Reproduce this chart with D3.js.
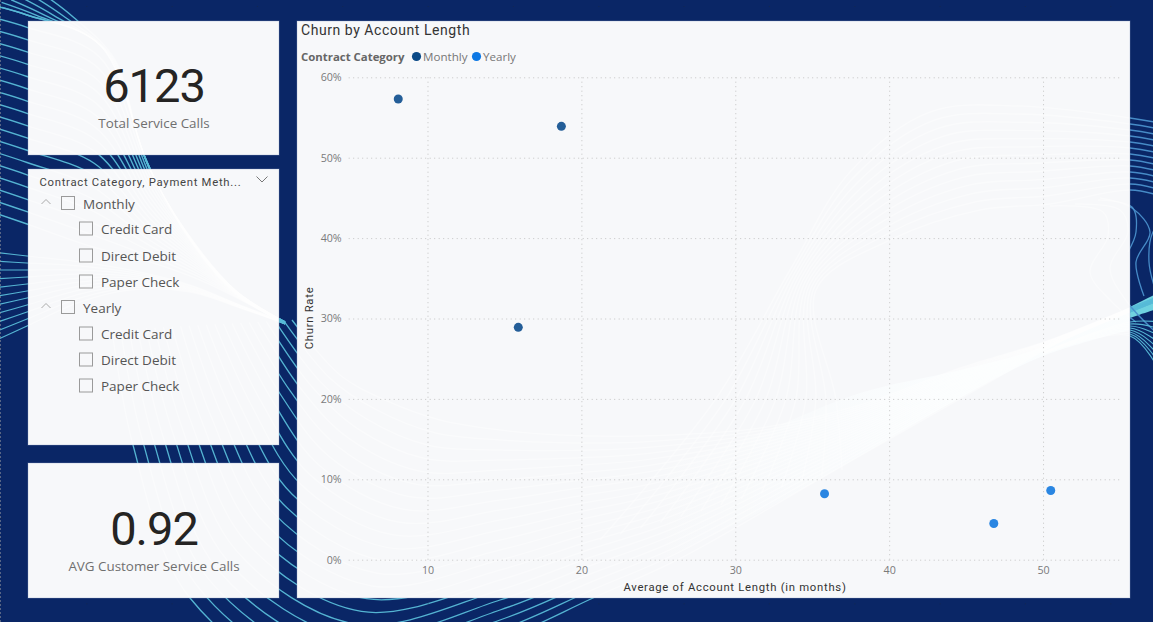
<!DOCTYPE html>
<html><head><meta charset="utf-8">
<script src="https://cdn.jsdelivr.net/npm/d3@7"></script>
<style>
html,body{margin:0;padding:0;background:#0a2666;overflow:hidden}
svg{display:block}
text{font-family:"Open Sans",sans-serif}
.din{font-family:Roboto,sans-serif}
</style></head><body><div id="chart"></div>
<script>
// ---- chart values ----
const seriesNames = ["Monthly","Yearly"];
const monthlyLength = [8.1,18.7,15.9];
const monthlyChurn  = [57.3,53.9,28.9];
const yearlyLength  = [35.8,46.8,50.5];
const yearlyChurn   = [8.2,4.5,8.6];
const xTickValues = [10,20,30,40,50];
const yTickValues = [0,10,20,30,40,50,60];
const xDomain = [4.88,55];
const yDomain = [0,60];
const totalCalls = "6123";
const avgCalls = "0.92";
const slicerTree = [["Monthly",["Credit Card","Direct Debit","Paper Check"]],["Yearly",["Credit Card","Direct Debit","Paper Check"]]];

// ---- layout ----
const W=1153,H=622;
const panels=[{x:28,y:21,w:251,h:134},{x:28,y:169,w:251,h:276},{x:28,y:463,w:251,h:135},{x:297,y:21,w:833,h:577}];
const seriesColor=d3.scaleOrdinal(seriesNames,["#0b4a87","#0d78e4"]);
const markColor=d3.scaleOrdinal(seriesNames,["#245e98","#2a86e2"]);

const svg=d3.select("#chart").append("svg").attr("width",W).attr("height",H);
svg.append("rect").attr("width",W).attr("height",H).attr("fill","#0a2666");
const defs=svg.append("defs");
defs.append("clipPath").attr("id","pc").selectAll("rect").data(panels).join("rect")
  .attr("x",d=>d.x).attr("y",d=>d.y).attr("width",d=>d.w).attr("height",d=>d.h);
const fade=defs.append("linearGradient").attr("id","fade").attr("gradientUnits","userSpaceOnUse")
  .attr("x1",640).attr("x2",960).attr("y1",0).attr("y2",0);
fade.append("stop").attr("offset",0).attr("stop-color","#fbfeff").attr("stop-opacity",0);
fade.append("stop").attr("offset",1).attr("stop-color","#fbfeff").attr("stop-opacity",.85);

// ---- decorative background ribbons ----
const ribbon=d3.line().curve(d3.curveCatmullRom.alpha(0.5));
function fan(a,b,n){return d3.range(n).map(i=>{const t=i/(n-1);return a.map((p,k)=>[p[0]+(b[k][0]-p[0])*t,p[1]+(b[k][1]-p[1])*t]);});}
const bowlOuter=[[112,330],[133,445],[190,598],[330,688],[500,640],[593,598],[677,560],[823,477],[893,437],[993,380],[1060,342],[1130,312],[1160,300]];
const bowlInner=[[292,320],[340,375],[385,400],[440,420],[500,430],[560,435],[640,436],[760,428],[860,405],[960,368],[1050,340],[1130,308],[1160,296]];
const topMid=[[-8,5],[27,15],[100,45],[150,170],[185,230],[235,290],[285,322]];
const families=[
 {lines:fan([[40,-8],[72,16],[115,60],[142,150],[180,225],[230,288],[285,322]],topMid,6),c:"#58bcd8",w:1.4},
 {lines:fan(topMid,[[-8,212],[27,224],[90,246],[150,262],[200,280],[245,302],[285,324]],18),c:"#58bcd8",w:1.4},
 {lines:fan([[-8,252],[27,256],[80,262],[130,270],[190,285],[240,305],[285,322]],
            [[-8,342],[27,326],[80,302],[130,290],[190,292],[240,308],[285,324]],11),c:"#58bcd8",w:1.2},
 {lines:fan(bowlOuter,bowlInner,22),c:"#58bcd8",w:1.3},
 {lines:fan([[600,540],[715,400],[790,270],[850,172],[930,112],[1020,106],[1130,118],[1160,123]],
            [[842,470],[836,400],[816,290],[890,240],[980,210],[1050,204],[1130,190],[1160,196]],13),c:"#4a90cc",w:1.4},
 {lines:[[[1050,206],[1103,212],[1108,236],[1090,272],[1112,302],[1136,322]],
         [[1075,204],[1120,210],[1128,232],[1110,268],[1128,303],[1160,336]],
         [[1098,200],[1132,207],[1136,232],[1128,252]],
         [[1100,198],[1132,208],[1150,232],[1136,262],[1144,296]],
         [[1170,215],[1153,232],[1149,262],[1156,292]]],c:"#4a90cc",w:1.3},
 {lines:fan([[1043,352],[1130,322],[1160,322]],[[1043,354],[1130,336],[1160,372]],8),c:"#58bcd8",w:1.1}
];
const wedge=d3.area().x(d=>d[0]).y0(d=>d[1]).y1(d=>d[2]).curve(d3.curveCatmullRom);
const bandCyan=[[1043,347,352],[1130,307,318],[1160,292,308]];
const bandWhite=[[640,475,570],[760,433,512],[860,393,456],[960,370,398],[1043,347,356],[1130,307,330]];
function decor(g,white){
  if(white){
    g.append("path").attr("d",wedge(bandWhite)).attr("fill","url(#fade)");
  } else {
    g.append("path").attr("d",wedge(bandCyan)).attr("fill","#6fd2e0");
  }
  families.forEach(f=>{
    g.selectAll(null).data(f.lines).join("path").attr("d",d=>ribbon(d)).attr("fill","none")
     .attr("stroke",white?"#ffffff":f.c).attr("stroke-width",white?f.w+.2:f.w).attr("opacity",white?.38:.95);
  });
}
decor(svg.append("g"),false);
const dots=[];d3.range(0,14).forEach(i=>d3.range(0,8).forEach(j=>dots.push([i*85.33+1,j*85.33+6])));
svg.append("g").selectAll("rect").data(dots).join("rect").attr("x",d=>d[0]).attr("y",d=>d[1]).attr("width",1).attr("height",1).attr("fill","#1b2a44").attr("opacity",.6);
svg.append("line").attr("x1",.5).attr("x2",.5).attr("y1",0).attr("y2",H).attr("stroke","#8a8f9a").attr("stroke-dasharray","2 2").attr("opacity",.6);

// ---- panels ----
svg.append("g").selectAll("rect").data(panels).join("rect")
  .attr("x",d=>d.x).attr("y",d=>d.y).attr("width",d=>d.w).attr("height",d=>d.h).attr("fill","#f7f8fa");
decor(svg.append("g").attr("clip-path","url(#pc)"),true);
svg.append("g").selectAll("rect").data(panels).join("rect")
  .attr("x",d=>d.x).attr("y",d=>d.y).attr("width",d=>d.w).attr("height",d=>d.h).attr("fill","none").attr("stroke","#8ea0c6").attr("stroke-width",1).attr("stroke-opacity",.35);

// ---- cards ----
function card(cx,valY,labY,val,lab){
  svg.append("text").attr("class","din").attr("x",cx).attr("y",valY).attr("text-anchor","middle").attr("font-size",47).attr("fill","#252423").style("letter-spacing","-1px").text(val);
  svg.append("text").attr("x",cx).attr("y",labY).attr("text-anchor","middle").attr("font-size",13.4).attr("fill","#6f6f6f").text(lab);
}
card(154,102,128,totalCalls,"Total Service Calls");
card(154,545,571,avgCalls,"AVG Customer Service Calls");

// ---- slicer ----
const sl=svg.append("g");
sl.append("text").attr("class","din").attr("x",39.5).attr("y",186).attr("font-size",11.3).attr("fill","#444").style("letter-spacing",".72px").text("Contract Category, Payment Meth...");
sl.append("path").attr("d","M256.5 176.5 L262 182 L267.5 176.5").attr("fill","none").attr("stroke","#777");
let row=0;const rowY=[204,229,256,282,308,334,360,386];
slicerTree.forEach(([name,kids])=>{
  const y=rowY[row++];
  sl.append("path").attr("d",`M41.5 ${y} L46 ${y-4.5} L50.5 ${y}`).attr("fill","none").attr("stroke","#aaa");
  sl.append("rect").attr("x",61.5).attr("y",y-7.5).attr("width",13).attr("height",13).attr("fill","none").attr("stroke","#9a9a9a");
  sl.append("text").attr("x",83).attr("y",y+4.5).attr("font-size",13.5).attr("fill","#555").text(name);
  kids.forEach(k=>{
    const yy=rowY[row++];
    sl.append("rect").attr("x",79.5).attr("y",yy-7).attr("width",13).attr("height",13).attr("fill","none").attr("stroke","#9a9a9a");
    sl.append("text").attr("x",101).attr("y",yy+4.5).attr("font-size",13.5).attr("fill","#555").text(k);
  });
});

// ---- scatter ----
const x=d3.scaleLinear().domain(xDomain).range([348.7,1120]);
const y=d3.scaleLinear().domain(yDomain).range([559.7,77.3]);
svg.append("text").attr("class","din").attr("x",301).attr("y",35).attr("font-size",14).attr("fill","#333").style("letter-spacing",".55px").text("Churn by Account Length");

const gx=svg.append("g").attr("transform",`translate(0,${y(0)})`).call(d3.axisBottom(x).tickValues(xTickValues).tickSize(-(y(0)-y(60))).tickPadding(7));
const gy=svg.append("g").attr("transform",`translate(${x.range()[0]},0)`).call(d3.axisLeft(y).tickValues(yTickValues).tickFormat(d=>d+"%").tickSize(-(x.range()[1]-x.range()[0])).tickPadding(7));
[gx,gy].forEach(g=>{
  g.select(".domain").remove();
  g.selectAll("line").attr("stroke","#c4c4c4").attr("stroke-dasharray","1 3.5");
  g.selectAll("text").attr("fill","#7a7a7a").attr("font-size",10.7).attr("font-family",'"Open Sans",sans-serif');
});
svg.append("text").attr("class","din").attr("x",735).attr("y",591).attr("text-anchor","middle").attr("font-size",11.3).attr("fill","#333").style("letter-spacing",".72px").text("Average of Account Length (in months)");
svg.append("text").attr("class","din").attr("transform","translate(313,318) rotate(-90)").attr("text-anchor","middle").attr("font-size",11.3).attr("fill","#333").style("letter-spacing",".72px").text("Churn Rate");

// legend
svg.append("text").attr("x",301).attr("y",61).attr("font-size",11.4).attr("font-weight",700).attr("fill","#666").text("Contract Category");
const legendX=d3.scaleOrdinal(seriesNames,[416.5,476.5]);
seriesNames.forEach(s=>{
  svg.append("circle").attr("cx",legendX(s)).attr("cy",56.5).attr("r",4.6).attr("fill",seriesColor(s));
  svg.append("text").attr("x",legendX(s)+6.5).attr("y",61).attr("font-size",11.6).attr("fill","#777").text(s);
});

// points
const rows=[...monthlyLength.map((v,i)=>({s:"Monthly",l:v,c:monthlyChurn[i]})),...yearlyLength.map((v,i)=>({s:"Yearly",l:v,c:yearlyChurn[i]}))];
svg.append("g").selectAll("circle").data(rows).join("circle")
  .attr("cx",d=>x(d.l)).attr("cy",d=>y(d.c)).attr("r",4.5).attr("fill",d=>markColor(d.s));
</script></body></html>
